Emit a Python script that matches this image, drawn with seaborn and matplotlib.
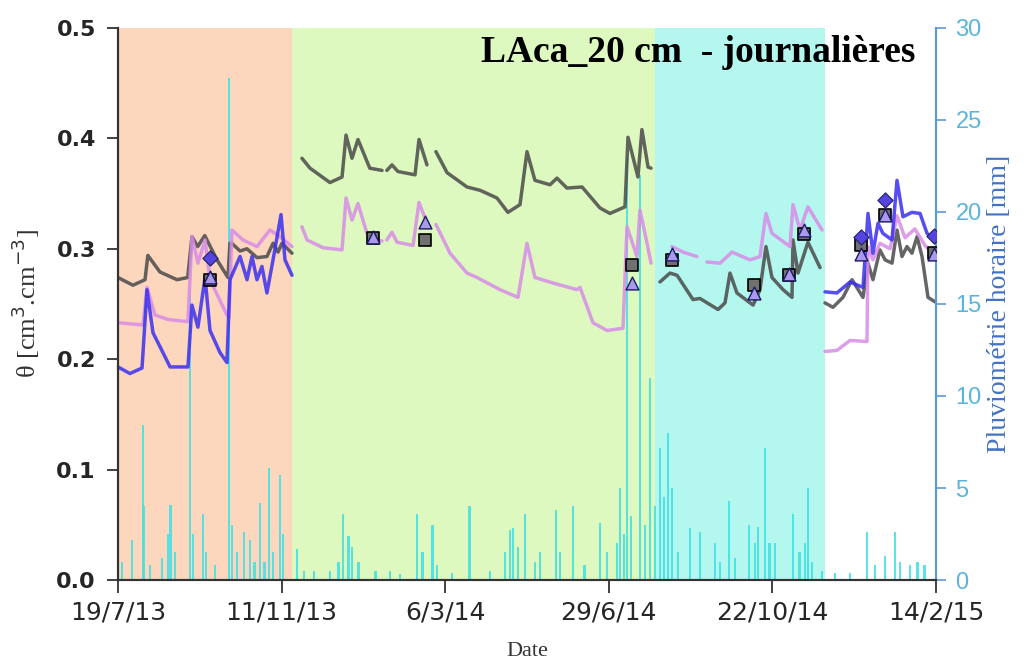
import matplotlib
matplotlib.use('Agg')
import matplotlib.pyplot as plt
import numpy as np
import pandas as pd
import seaborn as sns

# origine des jours : 19/7/13
start = pd.Timestamp('2013-07-19')
nan = np.nan

# teneur en eau (jours depuis le debut, theta) - nan = coupure
grey_day = [0, 10.5, 19, 21, 29.5, 41.5, 49, 52, 56, 61, 69.6, 77.3, 78.7, 80, 85.8, 90.7, 97.7, 104.7,
            109, 112.5, 115.3, 122.3, 125,
            129.3, 135, 149, 157.5, 160.3, 164.5, 168.7, 177, 185.6, 187,
            189, 192.6, 196.8, 208.8, 211.6, 217.2, 220,
            223.5, 231.3, 245.3, 254.5, 266.4, 274.1, 282.6, 287.5, 293.1, 303.7, 308.6, 315.6, 326.2,
            338.8, 345.8, 356.4, 358.5, 365.5, 368.3, 372.6, 374.7, 378,
            381, 388, 393, 404.2, 409.1, 421.8, 426.7, 430.2, 435.1, 446.4, 451.3, 455.5, 459.7, 467.5,
            473.8, 474.5, 478, 485, 493.5, 495,
            497, 502.6, 509.6, 516, 523.7, 527.2, 530.7, 535.6, 539.2, 544.1, 547.6, 551.1, 554.6, 558.1,
            561.7, 565.2, 569.4, 574.3]
grey_theta = [0.274, 0.267, 0.272, 0.294, 0.279, 0.272, 0.274, 0.311, 0.302, 0.312, 0.290, 0.274, 0.305, 0.305,
              0.298, 0.300, 0.292, 0.293, 0.305, 0.297, 0.305, 0.296, nan,
              0.382, 0.373, 0.360, 0.365, 0.403, 0.382, 0.399, 0.373, 0.371, nan,
              0.371, 0.376, 0.370, 0.367, 0.399, 0.376, nan,
              0.388, 0.369, 0.356, 0.353, 0.346, 0.333, 0.340, 0.388, 0.362, 0.358, 0.364, 0.355, 0.356,
              0.337, 0.332, 0.338, 0.401, 0.365, 0.408, 0.374, 0.373, nan,
              0.270, 0.278, 0.276, 0.254, 0.255, 0.245, 0.251, 0.278, 0.260, 0.249, 0.263, 0.302, 0.274, 0.263,
              0.256, 0.308, 0.278, 0.306, 0.283, nan,
              0.251, 0.247, 0.256, 0.272, 0.256, 0.287, 0.272, 0.299, 0.290, 0.287, 0.317, 0.293, 0.302, 0.296,
              0.311, 0.293, 0.256, 0.252]

plum_day = [0, 17.6, 20.4, 26, 35.1, 49.2, 52, 56.2, 61.2, 64.7, 76.6, 78, 80.1, 87.9, 97.7, 106.8, 113.9,
            122.3, 125,
            129.3, 132.9, 144.1, 157.5, 160.3, 164.5, 168.7, 175, 182.1, 185.6, 187,
            189, 192.6, 196.1, 207.4, 211.6, 217.2, 220,
            223.5, 233.4, 245.3, 252.4, 268.5, 281.2, 287.5, 293.1, 305.8, 322.6, 324.8, 333.9, 343.7, 355,
            357.8, 364.8, 366.9, 371.9, 374.7, 378,
            389.4, 397.2, 407, 410,
            414, 423.2, 431.6, 444.3, 451.3, 455.5, 459.7, 472.4, 474.5, 479.4, 485, 494.9, 495.5,
            497, 505.4, 514.6, 526.5, 527.2, 530.7, 535.6, 542.7, 547.6, 553.2, 560.2, 567.3, 574.3]
plum_theta = [0.233, 0.231, 0.265, 0.240, 0.236, 0.234, 0.311, 0.287, 0.308, 0.272, 0.240, 0.238, 0.317, 0.308,
              0.302, 0.317, 0.311, 0.302, nan,
              0.320, 0.308, 0.301, 0.299, 0.346, 0.326, 0.341, 0.314, 0.308, 0.307, nan,
              0.308, 0.315, 0.306, 0.303, 0.342, 0.323, nan,
              0.322, 0.296, 0.278, 0.274, 0.263, 0.256, 0.305, 0.274, 0.269, 0.263, 0.265, 0.233, 0.226, 0.228,
              0.320, 0.293, 0.335, 0.305, 0.287, nan,
              0.302, 0.297, 0.293, nan,
              0.288, 0.287, 0.297, 0.290, 0.293, 0.332, 0.314, 0.302, 0.340, 0.317, 0.338, 0.317, nan,
              0.207, 0.208, 0.217, 0.216, 0.302, 0.290, 0.305, 0.300, 0.330, 0.310, 0.318, 0.303, 0.293]

blue_day = [0, 8.4, 16.9, 20.4, 24.6, 31.6, 36.6, 49.2, 52, 56.2, 61.2, 64.7, 71.7, 76.6, 78.7, 85.8, 90.7,
            94.2, 97.7, 101.2, 104.7, 109, 114.6, 117.4, 122.3, 125,
            497, 505.4, 514.6, 523.7, 527.2, 530.7, 534.2, 537.7, 544.1, 547.6, 551.8, 558.1, 563.8,
            568.7, 574.3]
blue_theta = [0.193, 0.187, 0.192, 0.263, 0.224, 0.206, 0.193, 0.193, 0.249, 0.229, 0.274, 0.226, 0.206, 0.197,
              0.272, 0.293, 0.272, 0.293, 0.272, 0.284, 0.260, 0.290, 0.331, 0.290, 0.276, nan,
              0.261, 0.260, 0.270, 0.265, 0.332, 0.296, 0.323, 0.314, 0.308, 0.362, 0.329, 0.333, 0.332,
              0.314, 0.308]

# mesures ponctuelles
mes_day = [64.7, 179.2, 215.8, 361.3, 389.4, 447.1, 471.7, 482.2, 522.3, 539.2, 573.6]
mes_square = [0.272, 0.310, 0.308, 0.285, 0.290, 0.267, 0.276, 0.313, 0.303, 0.331, 0.296]
mes_triangle = [0.274, 0.311, 0.324, 0.269, 0.295, 0.260, 0.277, 0.317, 0.295, 0.331, 0.295]
diam_day = [64.7, 522.3, 539.2, 573.6]
diam_theta = [0.292, 0.311, 0.344, 0.312]

# pluviometrie horaire [mm]
rain_day = [3, 10, 17.6, 18.5, 22.5, 31, 35, 37, 40, 50.6, 52.7, 59.7, 62, 68, 78, 80, 83.6, 88.6, 92.8, 96,
            100, 103, 106, 109, 114, 116, 126, 131, 138, 149, 155, 158, 162, 164.5, 169, 181, 191, 198,
            210, 214, 221, 224, 235, 247, 261.5, 272, 275.5, 277.7, 281, 286, 293, 296.6, 308, 310.7, 320,
            328, 339, 344, 350.8, 353, 355.7, 358, 360.6, 367, 370.4, 374, 377.5, 381, 383.8, 386.6, 389.4,
            393.6, 402, 409, 419.7, 423, 429.5, 433.6, 443.5, 447.8, 450, 454.8, 458, 461.8, 474.5, 479,
            483, 485, 488, 495, 504, 514.5, 526.5, 532, 539, 546, 549.7, 556.7, 562, 567]
rain_mm = [1.0, 2.2, 8.4, 4.0, 0.8, 1.2, 2.5, 4.1, 1.5, 15.5, 2.5, 3.6, 1.5, 0.8, 27.3, 3.0, 1.5, 2.6, 2.2, 1.0,
           4.2, 1.0, 6.1, 1.5, 5.7, 2.5, 1.7, 0.5, 0.5, 0.5, 1.0, 3.6, 2.4, 1.8, 1.0, 0.5, 0.5, 0.3,
           3.6, 1.5, 3.0, 0.8, 0.4, 4.0, 0.5, 1.5, 2.7, 2.8, 1.8, 3.6, 1.0, 1.5, 3.8, 1.5, 4.0,
           0.8, 3.1, 1.5, 2.0, 5.0, 2.5, 23.0, 3.5, 22.0, 3.0, 11.0, 4.0, 7.2, 4.5, 8.0, 5.0,
           1.5, 2.8, 2.6, 2.0, 1.0, 4.3, 1.2, 3.0, 2.0, 2.9, 7.2, 2.0, 2.0, 3.6, 1.5,
           2.0, 5.0, 1.0, 0.5, 0.4, 0.4, 2.6, 0.8, 1.3, 2.6, 1.0, 0.8, 1.0, 0.8]

# periodes (saisons)
period_start = [0, 122.3, 377.5]
period_end = [122.3, 377.5, 497]
period_color = ['#fcd6bd', '#def9c0', '#b4f7ee']

tick_dates = ['2013-07-19', '2013-11-11', '2014-03-06', '2014-06-29', '2014-10-22', '2015-02-14']
tick_labels = ['19/7/13', '11/11/13', '6/3/14', '29/6/14', '22/10/14', '14/2/15']


def to_date(days):
    return start + pd.to_timedelta(np.asarray(days, dtype=float), unit='D')


def serie(days, vals):
    df = pd.DataFrame({'date': to_date(days), 'theta': vals})
    df['seg'] = df['theta'].isna().cumsum()
    return df.dropna()


sns.set_style('white')
fig = plt.figure(figsize=(10.34, 6.6), dpi=100)
ax = fig.add_axes([0.1141, 0.1212, 0.7911, 0.8364])
ax2 = ax.twinx()
# courbes au-dessus de la pluie
ax.set_zorder(ax2.get_zorder() + 1)
ax.patch.set_visible(False)
ax2.patch.set_visible(True)
ax2.patch.set_facecolor('white')

# fonds colores
for s, e, c in zip(period_start, period_end, period_color):
    ax2.axvspan(to_date([s])[0], to_date([e])[0], color=c, lw=0, zorder=0)

# pluie
ax2.bar(to_date(rain_day), rain_mm, width=1.6, color='#3ee0e4', alpha=0.85, linewidth=0, zorder=2)
ax2.set_ylim(0, 30)
ax2.set_yticks([0, 5, 10, 15, 20, 25, 30])

# courbes
for d, v, col in [(grey_day, grey_theta, '#4a4a4a'), (plum_day, plum_theta, '#d88ce8'),
                  (blue_day, blue_theta, '#3a2ff0')]:
    df = serie(d, v)
    sns.lineplot(data=df, x='date', y='theta', units='seg', estimator=None, sort=False,
                 color=col, lw=2.5, alpha=0.85, ax=ax, legend=False)

sns.scatterplot(x=to_date(mes_day), y=mes_square, marker='s', s=75, color='#707070',
                edgecolor='black', linewidth=1.2, ax=ax, zorder=5)
sns.scatterplot(x=to_date(mes_day), y=mes_triangle, marker='^', s=85, color='#aa99ee',
                edgecolor='#1a1a60', linewidth=1.0, ax=ax, zorder=6)
sns.scatterplot(x=to_date(diam_day), y=diam_theta, marker='D', s=60, color='#5544dd',
                edgecolor='#222266', linewidth=0.8, ax=ax, zorder=7)

ax.set_ylim(0, 0.5)
ax.set_yticks([0.0, 0.1, 0.2, 0.3, 0.4, 0.5])
ax.set_yticklabels(['0.0', '0.1', '0.2', '0.3', '0.4', '0.5'])
ax.set_xlim(pd.Timestamp('2013-07-19'), pd.Timestamp('2015-02-14'))
ax.set_xticks(pd.to_datetime(tick_dates))
ax.set_xticklabels(tick_labels)

# style des axes
for a in (ax, ax2):
    a.spines['top'].set_visible(False)
    a.spines['left'].set_color('#333333')
    a.spines['bottom'].set_color('#333333')
    a.spines['left'].set_linewidth(1.5)
    a.spines['bottom'].set_linewidth(1.5)
    a.spines['right'].set_color('#5b9bd5')
    a.spines['right'].set_linewidth(1.5)
    a.grid(False)

ax.tick_params(axis='y', left=True, right=False, length=8, width=1.3, color='#333333',
               labelsize=16, pad=8)
for t in ax.get_yticklabels():
    t.set_fontweight('bold')
    t.set_family('DejaVu Sans')
ax.tick_params(axis='x', bottom=True, length=9, width=1.3, color='#333333', labelsize=18, pad=6)
for t in ax.get_xticklabels():
    t.set_family(['Liberation Sans Narrow', 'DejaVu Sans'])
ax2.tick_params(axis='y', right=True, left=False, length=7, width=1.2, color='#5b9bd5',
                labelcolor='#5ab4dc', labelsize=17, pad=7)
for t in ax2.get_yticklabels():
    t.set_family('Liberation Sans')

ax.set_xlabel('Date', family='Liberation Serif', fontsize=16, color='#333333', labelpad=12)
ax.set_ylabel(r'θ [cm$^3$.cm$^{-3}$]', family='Liberation Serif', fontsize=19, color='#333333',
              labelpad=10)
ax2.set_ylabel('Pluviométrie horaire [mm]', family='Liberation Serif', fontsize=20, color='#4472c4',
               labelpad=4)
ax.text(0.709, 0.955, 'LAca_20 cm  - journalières', transform=ax.transAxes, ha='center', va='center',
        family='Liberation Serif', fontweight='bold', fontsize=27, color='black', zorder=10)

fig.savefig('out.png', dpi=100)
